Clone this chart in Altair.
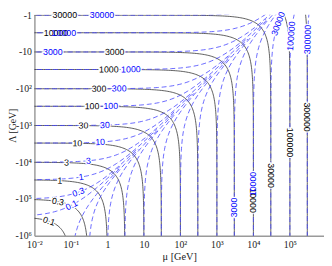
import numpy as np
import pandas as pd
import altair as alt

alt.data_transformers.disable_max_rows()

# ---- data ----
levels = [0.1, 0.3, 1, 3, 10, 30, 100, 300, 1000, 3000, 10000, 30000, 100000, 300000]
crossover = 3.0e4          # mu * |Lambda| where both contributions are equal

black_label_levels = [30000, 10000, 3000, 1000, 300, 100, 30, 10, 3, 1, 0.3, 0.1]
black_label_mu = [0.068, 0.039, 1.58, 1.09, 0.59, 0.38, 0.22, 0.15, 0.076, 0.05, 0.044, 0.025]
black_vlabel_levels = [300000, 100000, 30000, 10000]
black_vlabel_lam = [590, 2900, 2.3e4, 1.1e5]

blue_label_levels = [30000, 10000, 3000, 1000, 300, 100, 30, 10, 3, 1, 0.3, 0.1]
blue_label_mu = [0.71, 0.064, 0.032, 4.4, 2.1, 1.23, 0.85, 0.63, 0.3, 0.19, 0.16, 0.105]
blue_vlabel_levels = [300000, 100000, 30000, 10000, 3000]
blue_vlabel_lam = [4.6, 3.7, 1.7, 3.9e4, 1.7e5]

x_tick_values = [1e-2, 1e-1, 1, 10, 1e2, 1e3, 1e4, 1e5]
x_tick_labels = ["10⁻²", "10⁻¹", "1", "10", "10²", "10³", "10⁴", "10⁵"]
y_tick_values = [1, 10, 1e2, 1e3, 1e4, 1e5, 1e6]
y_tick_labels = ["-1", "-10", "-10²", "-10³", "-10⁴", "-10⁵", "-10⁶"]

XMIN, XMAX = 0.01, 8.6e5
YMIN, YMAX = 0.97, 1e6
W, H = 296, 226

# ---- contour paths ----
u = np.arange(-9, 9.0001, 0.05)
t = 10.0 ** u
ub = u[u <= 1.4]          # dashed contours fade out as they merge into the diagonal
tb = 10.0 ** ub
rows = []

def add(mu, inv, name, series):
    lam = crossover / inv
    keep = (mu > 0.004) & (mu < 2e6) & (lam > 0.4) & (lam < 3e6)
    for i, (m, l) in enumerate(zip(mu[keep], lam[keep])):
        rows.append({"mu": m, "lam": l, "curve": name, "i": i, "series": series})

for c in levels:
    add(c * t / (1 + t), c / (1 + t), f"k{c}", "black")      # mu + a/|L| = c
    add(c * tb, c * (1 + tb), f"bA{c}", "blue")             # a/|L| - mu = c
    add(c * (1 + tb), c * tb, f"bB{c}", "blue")             # mu - a/|L| = c

curves = pd.DataFrame(rows)

# ---- labels ----
kx = W / np.log10(XMAX / XMIN)
ky = H / np.log10(YMAX / YMIN)

def ang(dmu, dlam):
    a = np.degrees(np.arctan2(ky * dlam, kx * dmu))
    if a > 90:
        a -= 180
    if a <= -90:
        a += 180
    return a % 360

def fmt(c):
    return str(c) if c < 1 else str(int(c))

labs = []
for c, m in zip(black_label_levels, black_label_mu):
    labs.append({"mu": m, "lam": crossover / (c - m), "text": fmt(c), "series": "black",
                 "angle": ang(1, m / (c - m))})
for c, l in zip(black_vlabel_levels, black_vlabel_lam):
    r = crossover / l
    labs.append({"mu": c - r, "lam": l, "text": fmt(c), "series": "black",
                 "angle": ang(r / (c - r), 1)})
for c, m in zip(blue_label_levels, blue_label_mu):
    labs.append({"mu": m, "lam": crossover / (c + m), "text": fmt(c), "series": "blue",
                 "angle": ang(1, -m / (c + m))})
for c, l in zip(blue_vlabel_levels, blue_vlabel_lam):
    r = crossover / l
    labs.append({"mu": c + r, "lam": l, "text": fmt(c), "series": "blue",
                 "angle": ang(-r / (c + r), 1)})
labels = pd.DataFrame(labs)

def expr(labels_list, offset):
    arr = "[" + ",".join("'" + s + "'" for s in labels_list) + "]"
    return f"{arr}[round(log(datum.value)/LN10)+{offset}]"

serif = "Liberation Serif"
xenc = alt.X("mu:Q", scale=alt.Scale(type="log", domain=[XMIN, XMAX], nice=False),
             axis=alt.Axis(values=x_tick_values, labelExpr=expr(x_tick_labels, 2),
                           title="μ [GeV]", ticks=False, grid=False,
                           labelFont=serif, labelFontSize=10, titleFont=serif,
                           titleFontSize=10.5, titleFontWeight="normal",
                           labelPadding=4, titlePadding=2, domainColor="#9a9a9a",
                           domainWidth=1.5, labelColor="#222", titleColor="#222",
                           labelFlush=False))
yenc = alt.Y("lam:Q", scale=alt.Scale(type="log", domain=[YMIN, YMAX], nice=False, reverse=True),
             axis=alt.Axis(values=y_tick_values, labelExpr=expr(y_tick_labels, 0),
                           title="Λ [GeV]", ticks=False, grid=False,
                           labelFont=serif, labelFontSize=10, titleFont=serif,
                           titleFontSize=10, titleFontWeight="normal",
                           titleX=-22, titleBaseline="middle", titleAlign="center",
                           titleAngle=270,
                           labelPadding=3, domainColor="#9a9a9a",
                           domainWidth=1.5, labelColor="#222", titleColor="#222",
                           labelFlush=False))

black_lines = alt.Chart(curves[curves.series == "black"]).mark_line(
    color="#333333", strokeWidth=0.8, clip=True
).encode(x=xenc, y=yenc, detail="curve:N", order="i:Q")

blue_lines = alt.Chart(curves[curves.series == "blue"]).mark_line(
    color="#4040ff", strokeWidth=0.8, strokeDash=[5, 3], clip=True
).encode(x="mu:Q", y="lam:Q", detail="curve:N", order="i:Q")

halo = alt.Chart(labels).mark_text(
    font="Liberation Sans", fontSize=9, stroke="white", strokeWidth=2.5,
    fill="white", align="center", baseline="middle", clip=True
).encode(x="mu:Q", y="lam:Q", text="text:N", angle=alt.Angle("angle:Q", scale=None))

text = alt.Chart(labels).mark_text(
    font="Liberation Sans", fontSize=9, align="center", baseline="middle", clip=False
).encode(x="mu:Q", y="lam:Q", text="text:N", angle=alt.Angle("angle:Q", scale=None),
         color=alt.Color("series:N", scale=alt.Scale(domain=["black", "blue"],
                                                      range=["#000000", "#0000ff"]),
                         legend=None))

chart = alt.layer(black_lines, blue_lines, halo, text).properties(
    width=W, height=H,
    autosize=alt.AutoSizeParams(type="none"),
    padding={"left": 27, "top": 4, "right": 0, "bottom": 28},
    background="white",
).configure_view(stroke=None)

chart.save("out.html", embed_options={"renderer": "svg", "actions": False})
